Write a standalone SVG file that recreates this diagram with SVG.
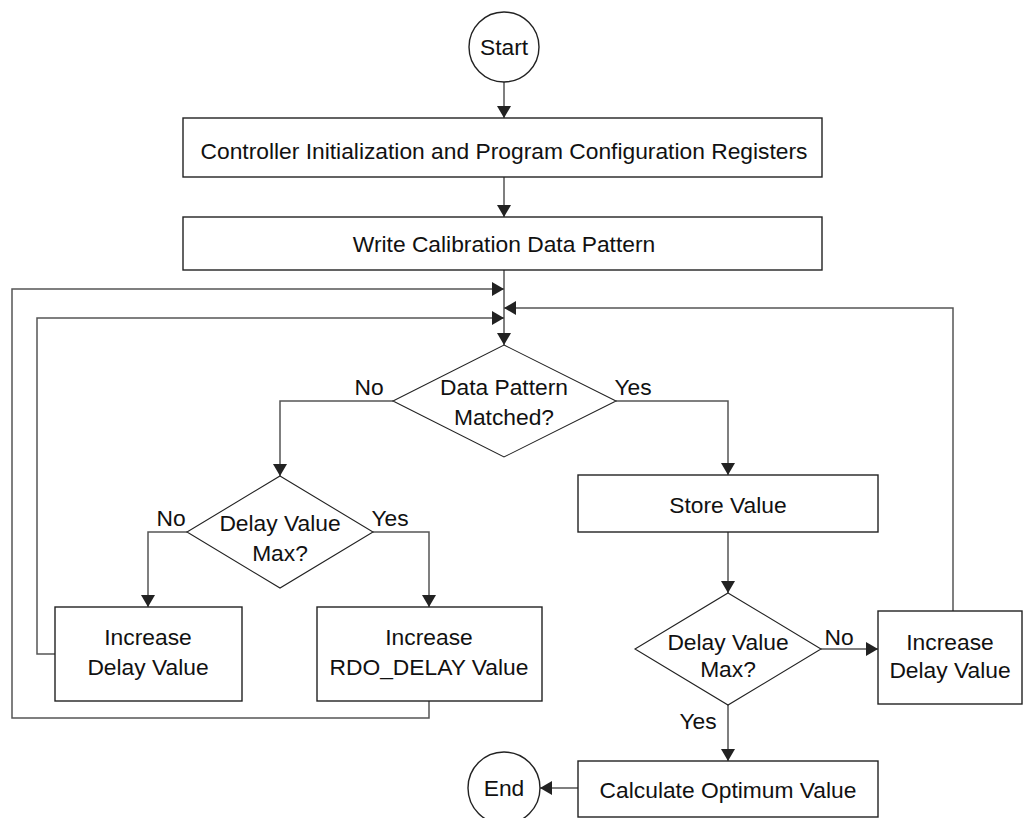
<svg xmlns="http://www.w3.org/2000/svg" width="1024" height="818" viewBox="0 0 1024 818">
<style>
.box{fill:#fff;stroke:#222;stroke-width:1.4}
.dia{fill:#fff;stroke:#222;stroke-width:1.1}
.c{fill:none;stroke:#555;stroke-width:1.5}
text{font-family:"Liberation Sans",Arial,sans-serif;font-size:22.8px;fill:#111;text-anchor:middle;dominant-baseline:central}
</style>
<defs>
<marker id="ah" markerUnits="userSpaceOnUse" markerWidth="14" markerHeight="16" refX="12" refY="7" orient="auto">
<path d="M0,0 L12,7 L0,14 Z" fill="#222"/>
</marker>
</defs>
<rect width="1024" height="818" fill="#fff"/>
<g id="connectors">
<path class="c" d="M504,82 V118" marker-end="url(#ah)"/>
<path class="c" d="M504,177 V217" marker-end="url(#ah)"/>
<path class="c" d="M504,270 V345" marker-end="url(#ah)"/>
<path class="c" d="M429,701 V718 H12 V289 H504" marker-end="url(#ah)"/>
<path class="c" d="M55,654 H37 V318 H504" marker-end="url(#ah)"/>
<path class="c" d="M953,611 V308 H504" marker-end="url(#ah)"/>
<path class="c" d="M393,401 H280 V476" marker-end="url(#ah)"/>
<path class="c" d="M616,401 H728 V475" marker-end="url(#ah)"/>
<path class="c" d="M187,532 H148 V607" marker-end="url(#ah)"/>
<path class="c" d="M373,532 H429 V607" marker-end="url(#ah)"/>
<path class="c" d="M728,532 V593" marker-end="url(#ah)"/>
<path class="c" d="M821,649 H878" marker-end="url(#ah)"/>
<path class="c" d="M728,705 V761" marker-end="url(#ah)"/>
<path class="c" d="M578,788 H540" marker-end="url(#ah)"/>
<text x="369" y="387">No</text>
<text x="633" y="387">Yes</text>
<text x="171" y="518">No</text>
<text x="390" y="518">Yes</text>
<text x="839" y="637">No</text>
<text x="698" y="721">Yes</text>
</g>
<g id="start">
<circle class="box" cx="504" cy="47" r="35"/>
<text x="504" y="47">Start</text>
</g>
<g id="init">
<rect class="box" x="183" y="118" width="639" height="59"/>
<text x="504" y="151">Controller Initialization and Program Configuration Registers</text>
</g>
<g id="write">
<rect class="box" x="183" y="217" width="639" height="53"/>
<text x="504" y="244">Write Calibration Data Pattern</text>
</g>
<g id="matched">
<polygon class="dia" points="504,345 616,401 504,457 393,401"/>
<text x="504" y="387">Data Pattern</text>
<text x="504" y="417">Matched?</text>
</g>
<g id="maxleft">
<polygon class="dia" points="280,476 373,532 280,588 187,532"/>
<text x="280" y="523">Delay Value</text>
<text x="280" y="553">Max?</text>
</g>
<g id="incleft">
<rect class="box" x="55" y="607" width="187" height="94"/>
<text x="148" y="637">Increase</text>
<text x="148" y="667">Delay Value</text>
</g>
<g id="incrdo">
<rect class="box" x="317" y="607" width="225" height="94"/>
<text x="429" y="637">Increase</text>
<text x="429" y="667">RDO_DELAY Value</text>
</g>
<g id="store">
<rect class="box" x="578" y="475" width="300" height="57"/>
<text x="728" y="505">Store Value</text>
</g>
<g id="maxright">
<polygon class="dia" points="728,593 821,649 728,705 635,649"/>
<text x="728" y="642">Delay Value</text>
<text x="728" y="669">Max?</text>
</g>
<g id="incright">
<rect class="box" x="878" y="611" width="144" height="93"/>
<text x="950" y="642">Increase</text>
<text x="950" y="670">Delay Value</text>
</g>
<g id="calc">
<rect class="box" x="578" y="761" width="300" height="56"/>
<text x="728" y="790">Calculate Optimum Value</text>
</g>
<g id="end">
<circle class="box" cx="504" cy="788" r="36"/>
<text x="504" y="788">End</text>
</g>
</svg>
